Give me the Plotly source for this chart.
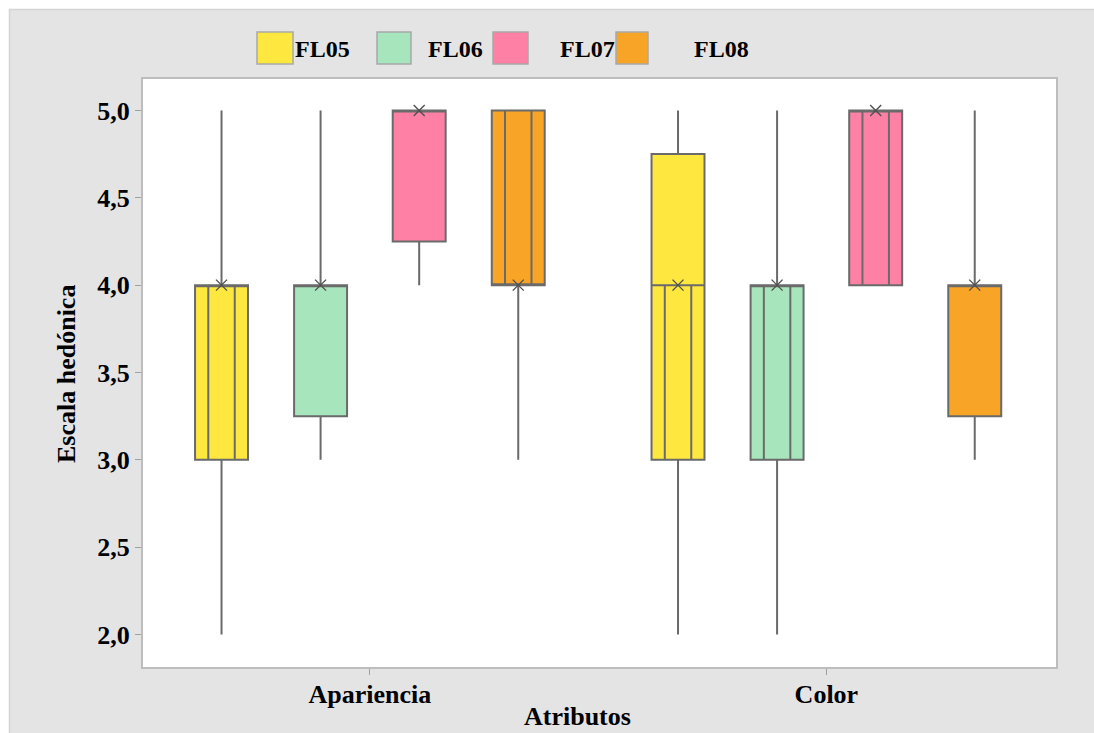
import plotly.graph_objects as go

# ---------------- data ----------------
attributes = ["Apariencia", "Color"]
formulations = ["FL05", "FL06", "FL07", "FL08"]
colors = ["#FEE840", "#A7E6BD", "#FE80A5", "#F8A426"]

q1 = {"FL05": [3.0, 3.0], "FL06": [3.25, 3.0], "FL07": [4.25, 4.0], "FL08": [4.0, 3.25]}
median = {"FL05": [4.0, 4.0], "FL06": [4.0, 4.0], "FL07": [5.0, 5.0], "FL08": [4.0, 4.0]}
q3 = {"FL05": [4.0, 4.75], "FL06": [4.0, 4.0], "FL07": [5.0, 5.0], "FL08": [5.0, 4.0]}
lower = {"FL05": [2.0, 2.0], "FL06": [3.0, 2.0], "FL07": [4.0, 4.0], "FL08": [3.0, 3.0]}
upper = {"FL05": [5.0, 5.0], "FL06": [5.0, 5.0], "FL07": [5.0, 5.0], "FL08": [5.0, 5.0]}
# inner vertical lines seen inside some boxes (low, high), None = absent
inner_lo = {"FL05": [3.0, 3.0], "FL06": [None, 3.0], "FL07": [None, 4.0], "FL08": [4.0, None]}
inner_hi = {"FL05": [4.0, 4.0], "FL06": [None, 4.0], "FL07": [None, 5.0], "FL08": [5.0, None]}

y_ticks = [2.0, 2.5, 3.0, 3.5, 4.0, 4.5, 5.0]

# ---------------- layout constants ----------------
W, H = 1094, 733
ML, MR, MT, MB = 143, 38, 79, 66
PW, PH = W - ML - MR, H - MT - MB
offsets = [-0.325, -0.108, 0.108, 0.325]
box_w = 0.116
font = "Liberation Serif"
edge = "#6a6a6a"


def px(x):
    return (x - ML) / PW


def py(y):
    return (H - MB - y) / PH


fig = go.Figure()
base = list(range(1, len(attributes) + 1))

for i, f in enumerate(formulations):
    xs = [b + offsets[i] for b in base]
    fig.add_trace(go.Box(
        x=xs, q1=q1[f], median=median[f], q3=q3[f],
        lowerfence=lower[f], upperfence=upper[f],
        width=box_w, whiskerwidth=0, boxpoints=False,
        fillcolor=colors[i], line=dict(color=edge, width=2),
        name=f, showlegend=False, hoverinfo="skip",
    ))
    # inner vertical lines
    lx, ly = [], []
    for j, b in enumerate(xs):
        if inner_lo[f][j] is None:
            continue
        for d in (-box_w / 4, box_w / 4):
            lx += [b + d, b + d, None]
            ly += [inner_lo[f][j], inner_hi[f][j], None]
    if lx:
        fig.add_trace(go.Scatter(x=lx, y=ly, mode="lines",
                                 line=dict(color=edge, width=2),
                                 showlegend=False, hoverinfo="skip"))
    # median markers
    fig.add_trace(go.Scatter(
        x=xs, y=median[f], mode="markers",
        marker=dict(symbol="x-thin-open", size=11, color="#505050",
                    line=dict(color="#505050", width=1.4)),
        showlegend=False, hoverinfo="skip"))

shapes = []
# white page margin top/left
shapes.append(dict(type="rect", xref="paper", yref="paper", layer="above",
                   x0=px(0), x1=px(W), y0=py(9), y1=py(0),
                   fillcolor="white", line=dict(width=0)))
shapes.append(dict(type="rect", xref="paper", yref="paper", layer="above",
                   x0=px(0), x1=px(9), y0=py(H), y1=py(0),
                   fillcolor="white", line=dict(width=0)))
shapes.append(dict(type="path", xref="paper", yref="paper", layer="above",
                   path=f"M {px(9.5)} {py(H)} L {px(9.5)} {py(9.5)} L {px(W)} {py(9.5)}",
                   line=dict(color="#d4d4d4", width=1.5)))

# legend (manual)
leg_sq = [(257, 293), (377, 411), (493, 528), (616, 648)]
leg_tx = [322, 455, 587, 721]
annotations = []
for i, f in enumerate(formulations):
    x0, x1 = leg_sq[i]
    shapes.append(dict(type="rect", xref="paper", yref="paper", layer="above",
                       x0=px(x0), x1=px(x1), y0=py(64), y1=py(32),
                       fillcolor=colors[i], line=dict(color="#a8a8a8", width=1.5)))
    annotations.append(dict(x=px(leg_tx[i]), y=py(49), xref="paper", yref="paper",
                            text=f"<b>{f}</b>", showarrow=False,
                            xanchor="center", yanchor="middle",
                            font=dict(family=font, size=24, color="black")))

annotations.append(dict(x=px(577), y=py(716), xref="paper", yref="paper",
                        text="<b>Atributos</b>", showarrow=False,
                        xanchor="center", yanchor="middle",
                        font=dict(family=font, size=26, color="black")))
annotations.append(dict(x=px(66), y=py(374), xref="paper", yref="paper",
                        text="<b>Escala hedónica</b>", showarrow=False, textangle=-90,
                        xanchor="center", yanchor="middle",
                        font=dict(family=font, size=26, color="black")))

fig.update_layout(
    width=W, height=H,
    margin=dict(l=ML, r=MR, t=MT, b=MB, pad=0),
    paper_bgcolor="#e4e4e4", plot_bgcolor="white",
    separators=",.",
    font=dict(family=font, size=26, color="black"),
    shapes=shapes, annotations=annotations,
    showlegend=False,
)
fig.update_xaxes(
    range=[0.503, 2.503], tickvals=base,
    ticktext=[f"<b>{a}</b>" for a in attributes],
    showgrid=False, zeroline=False,
    showline=True, mirror=True, linecolor="#bdbdbd", linewidth=2,
    ticks="outside", ticklen=6, tickcolor="#a0a0a0", tickwidth=1,
    ticklabelstandoff=-3,
    tickfont=dict(family=font, size=26, color="black"),
)
fig.update_yaxes(
    range=[1.814, 5.18], tickvals=y_ticks,
    ticktext=[f"<b>{v:.1f}</b>".replace(".", ",") for v in y_ticks],
    showgrid=False, zeroline=False,
    showline=True, mirror=True, linecolor="#bdbdbd", linewidth=2,
    ticks="outside", ticklen=6, tickcolor="#a0a0a0", tickwidth=1,
    tickfont=dict(family=font, size=26, color="black"),
)

fig.write_html("out.html", config={"displayModeBar": False},
               post_script="document.body.style.margin='0px';document.body.style.overflow='hidden';")
